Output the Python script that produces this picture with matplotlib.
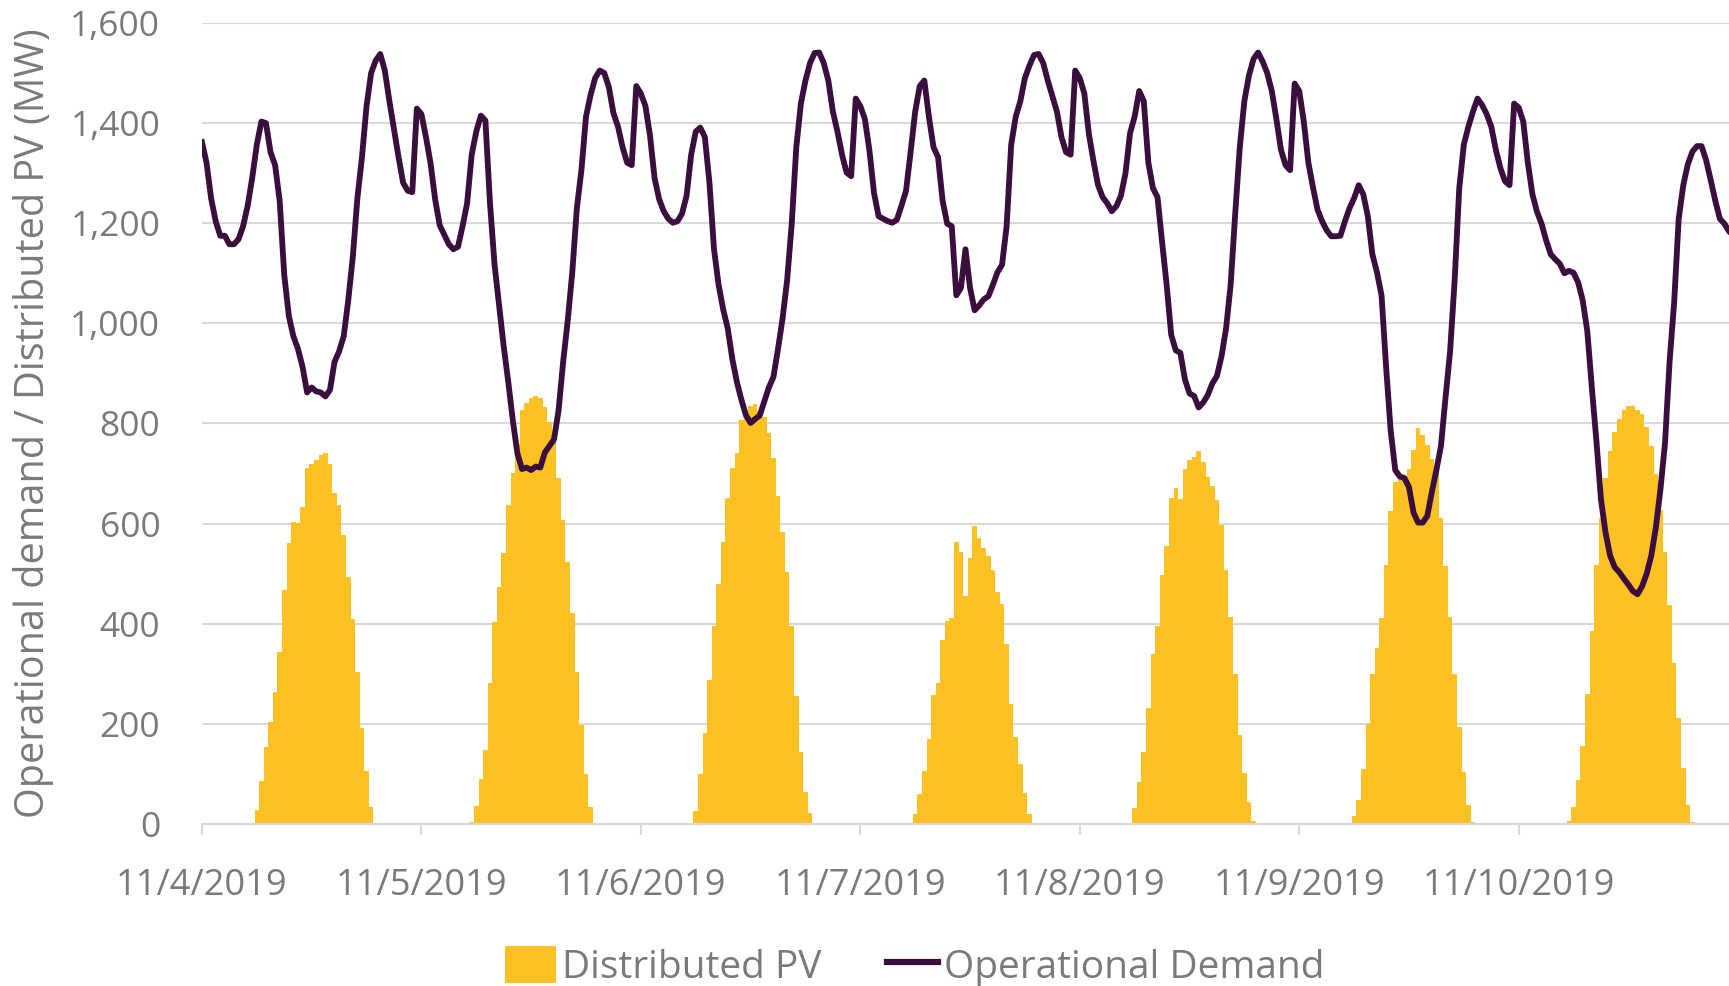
import numpy as np
import matplotlib
matplotlib.use("Agg")
import matplotlib.pyplot as plt
from matplotlib.patches import Patch
from matplotlib.lines import Line2D
from matplotlib.ticker import FuncFormatter

plt.rcParams['font.family'] = ['Open Sans', 'DejaVu Sans']

# half-hourly values, 48 per day, MW
pv_nov04 = [0]*12 + [28, 85, 153, 204, 263, 344, 468, 561, 604, 602, 633, 711, 720, 727, 738, 741,
                     720, 661, 637, 577, 493, 409, 303, 192, 106, 34, 2] + [0]*9
pv_nov05 = [0]*11 + [3, 36, 89, 148, 281, 403, 474, 541, 638, 702, 760, 826, 840, 850, 854, 850,
                     832, 803, 770, 692, 607, 523, 421, 303, 197, 99, 33] + [0]*10
pv_nov06 = [0]*12 + [26, 100, 181, 288, 395, 480, 563, 651, 711, 742, 806, 815, 834, 839, 825, 812,
                     780, 732, 655, 584, 503, 395, 255, 143, 64, 22] + [0]*10
pv_nov07 = [0]*12 + [20, 59, 105, 170, 257, 281, 367, 405, 411, 563, 543, 456, 531, 595, 571, 551,
                     536, 507, 464, 439, 359, 240, 173, 120, 61, 20] + [0]*10
pv_nov08 = [0]*12 + [31, 84, 143, 232, 340, 395, 498, 556, 651, 671, 650, 709, 727, 733, 745, 724,
                     694, 675, 648, 597, 507, 413, 299, 177, 102, 44, 5] + [0]*9
pv_nov09 = [0]*12 + [15, 48, 109, 199, 299, 352, 411, 518, 626, 684, 690, 695, 710, 748, 791, 778,
                     758, 730, 711, 612, 515, 413, 299, 194, 104, 38, 3] + [0]*9
pv_nov10 = [0]*11 + [5, 34, 87, 155, 260, 385, 517, 612, 691, 745, 783, 809, 826, 834, 834, 826,
                     819, 793, 755, 699, 628, 543, 437, 321, 211, 112, 38, 3] + [0]*9

demand_nov04 = [1362, 1321, 1250, 1204, 1175, 1175, 1158, 1158, 1168, 1194, 1235, 1291,
                1357, 1403, 1400, 1342, 1316, 1245, 1097, 1015, 974, 949, 913, 862,
                872, 864, 862, 854, 867, 923, 944, 974, 1046, 1133, 1250, 1332,
                1434, 1500, 1525, 1538, 1505, 1444, 1388, 1332, 1281, 1265, 1262, 1429]
demand_nov05 = [1418, 1372, 1320, 1248, 1196, 1177, 1158, 1148, 1153, 1194, 1240, 1337,
                1383, 1415, 1405, 1240, 1117, 1036, 954, 883, 806, 740, 709, 712,
                707, 714, 712, 742, 755, 768, 826, 923, 1005, 1102, 1230, 1306,
                1413, 1456, 1490, 1505, 1500, 1472, 1420, 1393, 1352, 1321, 1316, 1474]
demand_nov06 = [1459, 1434, 1375, 1290, 1248, 1224, 1209, 1201, 1204, 1219, 1255, 1337,
                1383, 1391, 1372, 1281, 1148, 1077, 1028, 990, 929, 883, 847, 816,
                801, 809, 816, 844, 872, 893, 949, 1010, 1087, 1199, 1352, 1439,
                1485, 1520, 1540, 1541, 1520, 1485, 1423, 1383, 1337, 1301, 1294, 1449]
demand_nov07 = [1434, 1408, 1345, 1260, 1214, 1209, 1204, 1201, 1207, 1235, 1265, 1342,
                1423, 1474, 1485, 1413, 1352, 1332, 1245, 1199, 1194, 1056, 1071, 1148,
                1071, 1026, 1036, 1048, 1054, 1077, 1102, 1117, 1194, 1357, 1413, 1444,
                1490, 1515, 1536, 1538, 1520, 1485, 1454, 1423, 1372, 1342, 1337, 1505]
demand_nov08 = [1490, 1459, 1378, 1324, 1276, 1252, 1240, 1224, 1234, 1255, 1300, 1380,
                1413, 1464, 1444, 1321, 1270, 1252, 1163, 1077, 977, 946, 941, 888,
                860, 855, 832, 842, 857, 880, 895, 934, 990, 1077, 1219, 1352,
                1444, 1495, 1528, 1541, 1523, 1500, 1464, 1408, 1347, 1316, 1306, 1479]
demand_nov09 = [1464, 1403, 1321, 1272, 1227, 1204, 1186, 1174, 1174, 1175, 1204, 1230,
                1250, 1276, 1258, 1214, 1138, 1102, 1056, 913, 786, 707, 694, 691,
                673, 622, 602, 602, 615, 663, 707, 755, 852, 944, 1087, 1270,
                1357, 1393, 1423, 1449, 1436, 1418, 1393, 1347, 1310, 1284, 1276, 1439]
demand_nov10 = [1431, 1403, 1321, 1258, 1223, 1199, 1166, 1138, 1128, 1119, 1100, 1105,
                1101, 1082, 1046, 985, 872, 765, 648, 582, 536, 513, 503, 490,
                478, 465, 459, 475, 500, 536, 592, 668, 760, 923, 1041, 1209,
                1276, 1318, 1343, 1354, 1354, 1326, 1286, 1245, 1209, 1199, 1184, 1175]

day_labels = ['11/4/2019', '11/5/2019', '11/6/2019', '11/7/2019',
              '11/8/2019', '11/9/2019', '11/10/2019']

pv = np.array(pv_nov04 + pv_nov05 + pv_nov06 + pv_nov07 + pv_nov08 + pv_nov09 + pv_nov10)
demand = np.array(demand_nov04 + demand_nov05 + demand_nov06 + demand_nov07
                  + demand_nov08 + demand_nov09 + demand_nov10)
x = np.arange(len(demand))

pv_color = '#FDC123'
line_color = '#3A0F3E'
text_color = '#7A7A7A'
grid_color = '#D9D9D9'

fig = plt.figure(figsize=(17.29, 9.86), dpi=100)
ax = fig.add_axes([0.1168, 0.1643, 0.8832, 0.8124])

ax.bar(x, pv, width=1.0, color=pv_color, linewidth=0, zorder=2)
ax.plot(x, demand, color=line_color, linewidth=4.2, zorder=3, solid_joinstyle='round')

ax.set_xlim(0, 334)
ax.set_ylim(0, 1600)
ax.set_yticks(np.arange(0, 1601, 200))
ax.yaxis.set_major_formatter(FuncFormatter(lambda v, p: f'{int(v):,}'))
ax.set_xticks(np.arange(len(day_labels)) * 48)
ax.set_xticklabels(day_labels)

ax.grid(axis='y', color=grid_color, linewidth=1.5, zorder=0)
ax.set_axisbelow(True)
for s in ['top', 'right', 'left']:
    ax.spines[s].set_visible(False)
ax.spines['bottom'].set_color(grid_color)
ax.spines['bottom'].set_linewidth(1.5)

ax.tick_params(axis='y', length=0, pad=30, labelsize=25.5, labelcolor=text_color)
ax.tick_params(axis='x', length=8, width=1.5, color=grid_color, direction='out',
               pad=24, labelsize=26, labelcolor=text_color)

ax.set_ylabel('Operational demand / Distributed PV (MW)', fontsize=28.5,
              color=text_color, labelpad=12)

handles = [Patch(facecolor=pv_color, edgecolor='none'),
           Line2D([0], [0], color=line_color, linewidth=4.5)]
fig.legend(handles, ['Distributed PV', 'Operational Demand'], loc='center',
           bbox_to_anchor=(0.529, 0.02), ncol=2, frameon=False, fontsize=28,
           labelcolor=text_color, handlelength=1.3, handleheight=1.1,
           handletextpad=0.15, columnspacing=1.7)

fig.savefig('out.png', dpi=100)
